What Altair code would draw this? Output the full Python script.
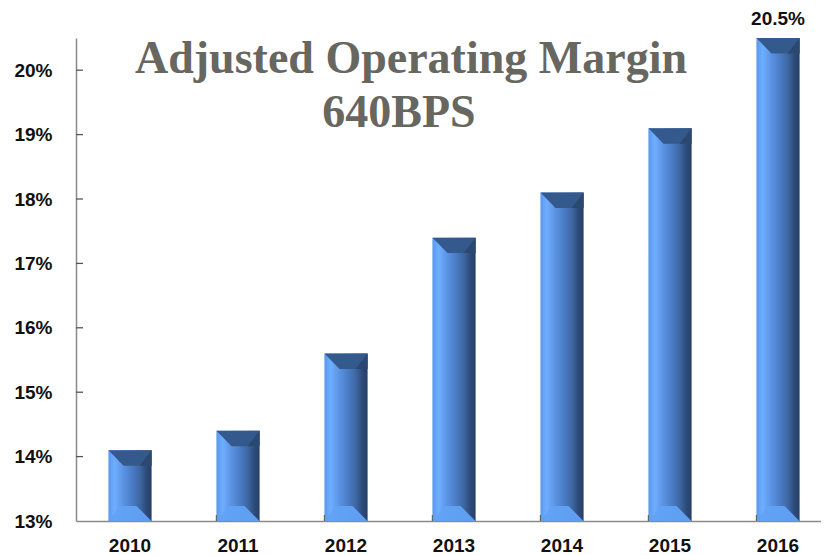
import altair as alt
import pandas as pd

years = ["2010", "2011", "2012", "2013", "2014", "2015", "2016"]
values = [14.1, 14.4, 15.6, 17.4, 18.1, 19.1, 20.5]
y_ticks = [13, 14, 15, 16, 17, 18, 19, 20]
title_lines = ["Adjusted Operating Margin", "640BPS"]
top_label = ["20.5%"]

W, H = 745, 483
XR = 756  # full band range (axis runs to the page edge)
BASE = 13

df = pd.DataFrame({"year": years, "value": values})
df["lbl"] = ["", "", "", "", "", "", top_label[0]]

xscale = alt.Scale(domain=years, range=[0, XR], paddingInner=0.6, paddingOuter=0.3)
yscale = alt.Scale(domain=[13, 20.5], nice=False, zero=False)

x_enc = alt.X("year:N", scale=xscale, sort=years,
              axis=alt.Axis(title=None, labelAngle=0, ticks=False, domainColor="#8a8a8a",
                            domainWidth=1.5, labelFont="Liberation Sans", labelFontWeight="bold",
                            labelFontSize=19, labelColor="#111111", labelPadding=15))
y_enc = alt.Y("value:Q", scale=yscale,
              axis=alt.Axis(title=None, values=y_ticks, grid=False, ticks=False,
                            domainColor="#8a8a8a", domainWidth=1.5, labelPadding=24,
                            labelFont="Liberation Sans", labelFontWeight="bold",
                            labelFontSize=19, labelColor="#111111",
                            labelExpr="datum.value + '%'"))

grad = alt.Gradient(
    gradient="linear", x1=0, x2=1, y1=0, y2=0,
    stops=[
        alt.GradientStop(offset=0.0, color="#5a98ee"),
        alt.GradientStop(offset=0.15, color="#6eaeff"),
        alt.GradientStop(offset=0.35, color="#5a92e2"),
        alt.GradientStop(offset=0.55, color="#4a7cc4"),
        alt.GradientStop(offset=0.72, color="#3e68a4"),
        alt.GradientStop(offset=0.88, color="#2d4b78"),
        alt.GradientStop(offset=1.0, color="#263f66"),
    ],
)

base = alt.Chart(df)

bars = base.mark_bar(color=grad).encode(x=x_enc, y=y_enc, y2=alt.datum(BASE))

top_bevel = base.mark_point(
    shape="M-1,0 L1,0 L1,0.72 L-0.3,0.72 Z", filled=True, size=1849,
    color="#34598c", opacity=1, strokeWidth=0,
).encode(x=alt.X("year:N", scale=xscale, sort=years), y=alt.Y("value:Q", scale=yscale))

top_bevel_right = base.mark_point(
    shape="M0.45,0.72 L1,0 L1,0.72 Z", filled=True, size=1849,
    color="#2a4870", opacity=1, strokeWidth=0,
).encode(x=alt.X("year:N", scale=xscale, sort=years), y=alt.Y("value:Q", scale=yscale))

bottom_bevel = base.mark_point(
    shape="M-1,0 L1,0 L0.3,-0.7 L-0.45,-0.7 Z", filled=True, size=1849,
    color="#62a2f6", opacity=0.95, strokeWidth=0,
).encode(x=alt.X("year:N", scale=xscale, sort=years), y=alt.datum(BASE))

value_text = base.mark_text(
    font="Liberation Sans", fontWeight="bold", fontSize=19, color="#111111",
    baseline="bottom", dy=-9,
).encode(x=alt.X("year:N", scale=xscale, sort=years), y=alt.Y("value:Q", scale=yscale), text="lbl:N")

ytick_df = pd.DataFrame({"t": y_ticks[1:]})
yticks = alt.Chart(ytick_df).mark_rule(color="#555555", strokeWidth=1.3).encode(
    y=alt.Y("t:Q", scale=yscale), x=alt.value(0), x2=alt.value(7)
)

xtick_df = pd.DataFrame({"year": years[1:]})
xticks = alt.Chart(xtick_df).mark_rule(color="#666666", strokeWidth=1.2).encode(
    x=alt.X("year:N", scale=xscale, sort=years, bandPosition=0),
    y=alt.value(H), y2=alt.value(H - 6),
)

t1 = alt.Chart(pd.DataFrame({"t": [title_lines[0]]})).mark_text(
    font="Liberation Serif", fontWeight="bold", fontSize=46, color="#67665f",
    align="center", baseline="alphabetic",
).encode(text="t:N", x=alt.value(335), y=alt.value(35))

t2 = alt.Chart(pd.DataFrame({"t": [title_lines[1]]})).mark_text(
    font="Liberation Serif", fontWeight="bold", fontSize=46, color="#67665f",
    align="center", baseline="alphabetic",
).encode(text="t:N", x=alt.value(323), y=alt.value(89))

chart = alt.layer(bars, top_bevel, top_bevel_right, bottom_bevel, value_text, yticks, xticks, t1, t2).properties(
    width=W, height=H,
    autosize=alt.AutoSizeParams(type="none"),
    padding={"left": 68, "top": 30, "right": 0, "bottom": 40},
    background="white",
).configure_view(stroke=None)

chart.save("out.html", embed_options={"renderer": "svg", "actions": False})
